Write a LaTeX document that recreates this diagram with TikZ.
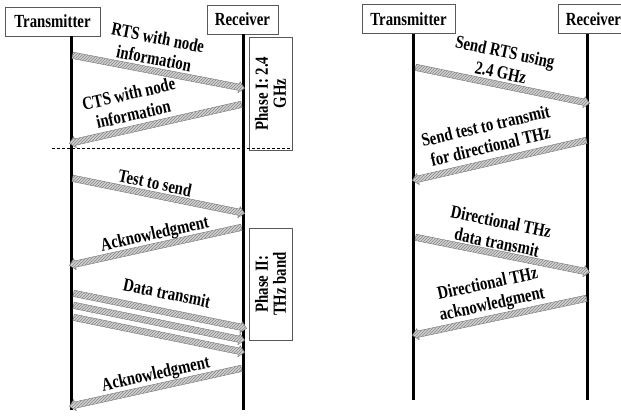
\documentclass[tikz,border=0pt]{standalone}
\usepackage{fontspec}
\newfontfamily\lblfont{Liberation Serif}[FakeStretch=0.8]
\usetikzlibrary{calc,shapes.arrows,patterns}

\tikzset{
  txt/.style={font=\lblfont\bfseries\fontsize{18.5}{21}\selectfont},
  actor/.style={txt, draw=black!65, line width=0.8pt, fill=white, inner sep=0pt,
    minimum height=29pt},
  lifeline/.style={line width=3pt, black},
  sig/.style={single arrow, draw=black!55, line width=0.4pt, fill=gray!35,
    postaction={pattern=north east lines, pattern color=gray!95},
    minimum width=0pt, inner xsep=0pt, inner ysep=3pt,
    single arrow head extend=2.5pt, single arrow head indent=0pt},
  lbl/.style={txt, align=center, inner sep=0pt},
  phasebox/.style={txt, font=\lblfont\bfseries\fontsize{18.5}{18}\selectfont,
    draw=black!65, line width=0.8pt, align=center, rotate=90, inner sep=0pt,
    minimum height=43pt},
}

% message arrow between two named points
\newcommand\sigarrow[2]{%
  \path let \p1=($(#2)-(#1)$), \n1={atan2(\y1,\x1)}, \n2={veclen(\x1,\y1)} in
    node[sig, minimum height=\n2, rotate=\n1] at ($(#1)!0.5!(#2)$) {};}

\begin{document}
\begin{tikzpicture}[x=1pt,y=-1pt]
\useasboundingbox (0,0) rectangle (621,416);
\clip (0,0) rectangle (621,416);

% ---------- left chart ----------
\node[actor, minimum width=95pt] (tx1) at (52.5,21.5) {Transmitter};
\node[actor, minimum width=71pt] (rx1) at (242.5,19.5) {Receiver};

\coordinate (tx1top) at (71,36);  \coordinate (tx1bot) at (71,410);
\coordinate (rx1top) at (243,34); \coordinate (rx1bot) at (243,410);
\draw[lifeline] (tx1top) -- (tx1bot);
\draw[lifeline] (rx1top) -- (rx1bot);

\node[phasebox, minimum width=113pt] (ph1) at (270.5,93.5) {Phase I: 2.4\\GHz};
\node[phasebox, minimum width=112pt] (ph2) at (270.5,284) {Phase II:\\THz band};

\coordinate (sepL) at (52,148); \coordinate (sepR) at (290,148);
\draw[dash pattern=on 3pt off 2pt, line width=0.6pt] (sepL) -- (sepR);

\coordinate (a1s) at (71,55);   \coordinate (a1e) at (243,88);
\coordinate (a2s) at (243,104); \coordinate (a2e) at (71,143);
\coordinate (a3s) at (71,178);  \coordinate (a3e) at (243,213);
\coordinate (a4s) at (243,227); \coordinate (a4e) at (71,265);
\coordinate (a5s) at (72,293);  \coordinate (a5e) at (245,328);
\coordinate (a6s) at (72,305);  \coordinate (a6e) at (243,340);
\coordinate (a7s) at (72,317);  \coordinate (a7e) at (243,352);
\coordinate (a8s) at (243,368); \coordinate (a8e) at (71,406);
\sigarrow{a1s}{a1e}
\sigarrow{a2s}{a2e}
\sigarrow{a3s}{a3e}
\sigarrow{a4s}{a4e}
\sigarrow{a5s}{a5e}
\sigarrow{a6s}{a6e}
\sigarrow{a7s}{a7e}
\sigarrow{a8s}{a8e}

\node[lbl, rotate=-11]   (l1) at (156,48)  {RTS with node\\information};
\node[lbl, rotate=12.8]  (l2) at (131,104) {CTS with node\\information};
\node[lbl, rotate=-11.6] (l3) at (155,183) {Test to send};
\node[lbl, rotate=12.6]  (l4) at (155,235) {Acknowledgment};
\node[lbl, rotate=-11.5] (l5) at (167,293) {Data transmit};
\node[lbl, rotate=12.6]  (l6) at (156,375) {Acknowledgment};

% ---------- right chart ----------
\node[actor, minimum width=93pt] (tx2) at (408.5,19) {Transmitter};
\node[actor, minimum width=71pt] (rx2) at (593.5,19) {Receiver};

\coordinate (tx2top) at (413,34); \coordinate (tx2bot) at (413,400);
\coordinate (rx2top) at (587,34); \coordinate (rx2bot) at (587,400);
\draw[lifeline] (tx2top) -- (tx2bot);
\draw[lifeline] (rx2top) -- (rx2bot);

\coordinate (b1s) at (414,67);  \coordinate (b1e) at (588,103);
\coordinate (b2s) at (588,140); \coordinate (b2e) at (414,180);
\coordinate (b3s) at (414,237); \coordinate (b3e) at (588,272);
\coordinate (b4s) at (588,298); \coordinate (b4e) at (414,335);
\sigarrow{b1s}{b1e}
\sigarrow{b2s}{b2e}
\sigarrow{b3s}{b3e}
\sigarrow{b4s}{b4e}

\node[lbl, rotate=-11.9] (m1) at (503,62)  {Send RTS using\\2.4 GHz};
\node[lbl, rotate=13.2]  (m2) at (488,136) {Send test to transmit\\for directional THz};
\node[lbl, rotate=-11.5] (m3) at (499,232) {Directional THz\\data transmit};
\node[lbl, rotate=12.3]  (m4) at (490,295) {Directional THz\\acknowledgment};
\end{tikzpicture}
\end{document}
